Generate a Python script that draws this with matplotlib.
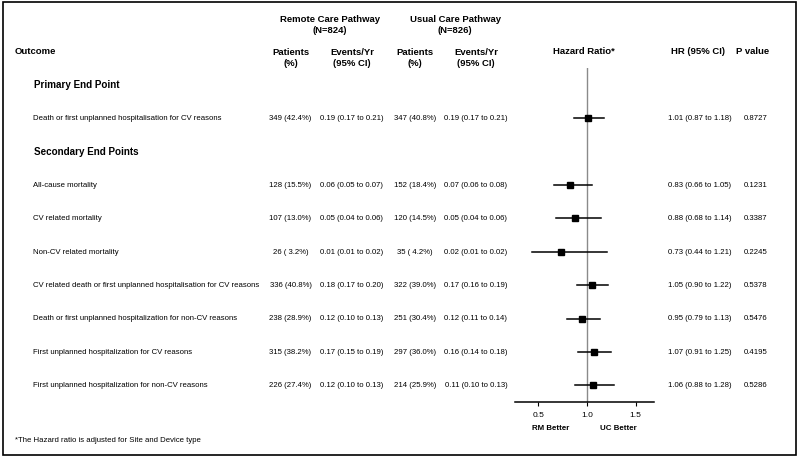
import matplotlib
matplotlib.use("Agg")
import matplotlib.pyplot as plt
from matplotlib.patches import Rectangle

plt.rcParams['font.family'] = ['Liberation Sans', 'DejaVu Sans']

# ---------------- data ----------------
sections = ["Primary End Point", "Secondary End Points"]
outcomes = [
    "Death or first unplanned hospitalisation for CV reasons",
    "All-cause mortality",
    "CV related mortality",
    "Non-CV related mortality",
    "CV related death or first unplanned hospitalisation for CV reasons",
    "Death or first unplanned hospitalization for non-CV reasons",
    "First unplanned hospitalization for CV reasons",
    "First unplanned hospitalization for non-CV reasons",
]
outcome_section = [0, 1, 1, 1, 1, 1, 1, 1]

rm_n = [349, 128, 107, 26, 336, 238, 315, 226]
rm_pct = [42.4, 15.5, 13.0, 3.2, 40.8, 28.9, 38.2, 27.4]
rm_rate = [0.19, 0.06, 0.05, 0.01, 0.18, 0.12, 0.17, 0.12]
rm_rate_lo = [0.17, 0.05, 0.04, 0.01, 0.17, 0.10, 0.15, 0.10]
rm_rate_hi = [0.21, 0.07, 0.06, 0.02, 0.20, 0.13, 0.19, 0.13]

uc_n = [347, 152, 120, 35, 322, 251, 297, 214]
uc_pct = [40.8, 18.4, 14.5, 4.2, 39.0, 30.4, 36.0, 25.9]
uc_rate = [0.19, 0.07, 0.05, 0.02, 0.17, 0.12, 0.16, 0.11]
uc_rate_lo = [0.17, 0.06, 0.04, 0.01, 0.16, 0.11, 0.14, 0.10]
uc_rate_hi = [0.21, 0.08, 0.06, 0.02, 0.19, 0.14, 0.18, 0.13]

hr = [1.01, 0.83, 0.88, 0.73, 1.05, 0.95, 1.07, 1.06]
hr_lo = [0.87, 0.66, 0.68, 0.44, 0.90, 0.79, 0.91, 0.88]
hr_hi = [1.18, 1.05, 1.14, 1.21, 1.22, 1.13, 1.25, 1.28]
p_values = ["0.8727", "0.1231", "0.3387", "0.2245", "0.5378", "0.5476", "0.4195", "0.5286"]

rm_label = "Remote Care Pathway\n(N=824)"
uc_label = "Usual Care Pathway\n(N=826)"
x_ticks = [0.5, 1.0, 1.5]
footnote = "*The Hazard ratio is adjusted for Site and Device type"

# ---------------- layout ----------------
W, H = 800, 459
fig = plt.figure(figsize=(W / 100, H / 100), dpi=100)

def fx(px):
    return px / W

def fy(py):
    return 1 - py / H

DS = 5.6

def txt(px, py, s, size=DS, weight='normal', ha='center', va='center', **kw):
    fig.text(fx(px), fy(py), s, fontsize=size, fontweight=weight, ha=ha, va=va, **kw)

# frame
fig.patches.append(Rectangle((fx(3), fy(455)), fx(793), (455 - 2) / H,
                             transform=fig.transFigure, fill=False,
                             edgecolor='black', linewidth=1.2))

# slot positions
slot0 = 85.0
step = 33.4
rows = []  # (kind, index)
last_sec = -1
for i, s in enumerate(outcome_section):
    if s != last_sec:
        rows.append(('sec', s))
        last_sec = s
    rows.append(('out', i))

# headers
HS = 6.8
txt(330, 25, rm_label, size=HS, weight='bold', linespacing=1.2)
txt(455, 25, uc_label, size=HS, weight='bold', linespacing=1.2)
txt(15, 52, "Outcome", size=HS, weight='bold', ha='left')
col_rm_n, col_rm_r, col_uc_n, col_uc_r, col_hr, col_p = 290.5, 352, 415, 476, 700, 756
for cx in (col_rm_n, col_uc_n):
    txt(cx, 58, "Patients\n(%)", size=HS, weight='bold', linespacing=1.2)
for cx in (col_rm_r, col_uc_r):
    txt(cx, 58, "Events/Yr\n(95% CI)", size=HS, weight='bold', linespacing=1.2)
txt(584, 52, "Hazard Ratio*", size=HS, weight='bold')
txt(698, 52, "HR (95% CI)", size=HS, weight='bold')
txt(753, 52, "P value", size=HS, weight='bold')

# forest axes: rows 0..9, y limits -0.5..9.5
ax_top, ax_bot = 68, 402
ax_left, ax_right = 515, 654
ax = fig.add_axes([fx(ax_left), fy(ax_bot), (ax_right - ax_left) / W, (ax_bot - ax_top) / H])
n_slots = len(rows)
ax.set_ylim(n_slots - 0.5, -0.5)
ax.set_xlim(0.26, 1.69)
ax.axvline(1.0, color='#8a8a8a', linewidth=1.0, zorder=1)

for k, (kind, idx) in enumerate(rows):
    py = slot0 + step * k
    if kind == 'sec':
        txt(34, py, sections[idx], size=7.1, weight='bold', ha='left')
    else:
        i = idx
        txt(33, py, outcomes[i], ha='left')
        txt(col_rm_n, py, f"{rm_n[i]} ({rm_pct[i]:4.1f}%)")
        txt(col_rm_r, py, f"{rm_rate[i]:.2f} ({rm_rate_lo[i]:.2f} to {rm_rate_hi[i]:.2f})")
        txt(col_uc_n, py, f"{uc_n[i]} ({uc_pct[i]:4.1f}%)")
        txt(col_uc_r, py, f"{uc_rate[i]:.2f} ({uc_rate_lo[i]:.2f} to {uc_rate_hi[i]:.2f})")
        txt(col_hr, py, f"{hr[i]:.2f} ({hr_lo[i]:.2f} to {hr_hi[i]:.2f})")
        txt(col_p, py, p_values[i])
        ax.plot([hr_lo[i], hr_hi[i]], [k, k], color='black', linewidth=1.1, zorder=2)
        ax.plot([hr[i]], [k], marker='s', markersize=4.8, color='black', zorder=3)

for side in ('top', 'right', 'left'):
    ax.spines[side].set_visible(False)
ax.spines['bottom'].set_linewidth(1.1)
ax.set_yticks([])
ax.set_xticks(x_ticks)
ax.set_xticklabels([f"{t:.1f}" for t in x_ticks])
ax.tick_params(axis='x', direction='out', length=3, width=0.8, labelsize=6.0, pad=4)
ax.patch.set_alpha(0)

txt(551, 428, "RM Better", size=5.7, weight='bold')
txt(618, 428, "UC Better", size=5.7, weight='bold')
txt(15, 440, footnote, ha='left')

fig.savefig("out.png", dpi=100)
